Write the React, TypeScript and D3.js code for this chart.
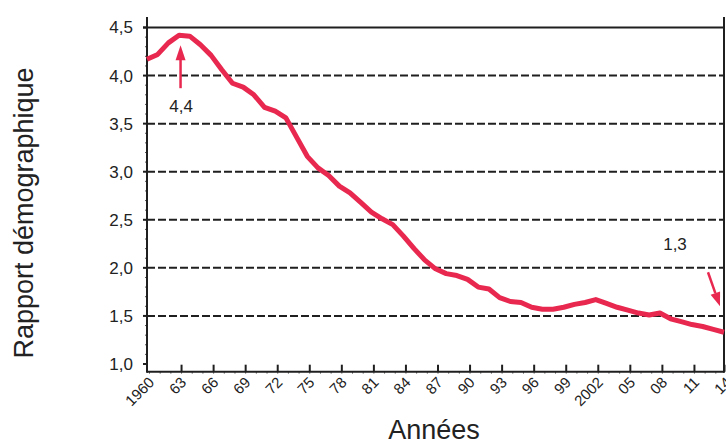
import React from "react";
import * as d3 from "d3";

const years: number[] = d3.range(1960, 2015);
const ratio: number[] = [
  4.17, 4.22, 4.34, 4.42, 4.41, 4.32, 4.21, 4.06, 3.92, 3.88,
  3.8, 3.67, 3.63, 3.56, 3.36, 3.16, 3.04, 2.96, 2.85, 2.78,
  2.68, 2.58, 2.51, 2.45, 2.33, 2.2, 2.08, 1.99, 1.94, 1.92,
  1.88, 1.8, 1.78, 1.69, 1.65, 1.64, 1.59, 1.57, 1.57, 1.59,
  1.62, 1.64, 1.67, 1.63, 1.59, 1.56, 1.53, 1.51, 1.53, 1.47,
  1.44, 1.41, 1.39, 1.36, 1.33,
];
const yTicks: number[] = [1.0, 1.5, 2.0, 2.5, 3.0, 3.5, 4.0, 4.5];
const xTickYears: number[] = [1960, 1963, 1966, 1969, 1972, 1975, 1978, 1981, 1984, 1987, 1990, 1993, 1996, 1999, 2002, 2005, 2008, 2011, 2014];
const xTickLabels: string[] = ["1960", "63", "66", "69", "72", "75", "78", "81", "84", "87", "90", "93", "96", "99", "2002", "05", "08", "11", "14"];
const annotations = [
  { year: 1963, value: 4.42, label: "4,4" },
  { year: 2014, value: 1.33, label: "1,3" },
];

const W = 726;
const H = 443;
const FONT = "'Liberation Sans', Arial, Helvetica, sans-serif";
const RED = "#E8284F";
const INK = "#1f1f1f";

export default function App() {
  const x = d3.scaleLinear().domain([1960, 2014]).range([147, 724]);
  const xt = (yr: number) => x(yr) + 2.5;
  const y = d3.scaleLinear().domain([1.0, 4.5]).range([364, 27.5]);
  const left = x(1960);
  const right = x(2014);
  const bottom = y(0.92);
  const top = 17;

  const line = d3
    .line<number>()
    .x((_, i) => x(years[i]))
    .y((d) => y(d))
    .curve(d3.curveLinear);

  const minorY = d3.range(10, 46).map((v) => v / 10);
  const minorX = d3.range(1960, 2015);

  const fmt = (v: number) => v.toFixed(1).replace(".", ",");

  return (
    <svg width={W} height={H} style={{ position: "absolute", left: 0, top: 0, background: "#fff" }} fontFamily={FONT}>
      {/* minor y ticks */}
      {minorY.map((v) => (
        <line key={"my" + v} x1={left - 2} x2={left} y1={y(v)} y2={y(v)} stroke="#555" strokeWidth={1} />
      ))}
      {/* minor x ticks */}
      {minorX.map((yr) => (
        <line key={"mx" + yr} x1={xt(yr)} x2={xt(yr)} y1={bottom} y2={bottom + 2} stroke="#666" strokeWidth={1} />
      ))}
      {/* grid */}
      {yTicks.filter((v) => v > 1 && v < 4.5).map((v) => (
        <line key={"g" + v} x1={left} x2={right} y1={y(v)} y2={y(v)} stroke={INK} strokeWidth={2} strokeDasharray="8,3" />
      ))}
      <line x1={left - 4} x2={right} y1={y(4.5)} y2={y(4.5)} stroke={INK} strokeWidth={2} />
      {/* y major ticks */}
      {yTicks.map((v) => (
        <line key={"yt" + v} x1={left - 4} x2={left} y1={y(v)} y2={y(v)} stroke={INK} strokeWidth={2} />
      ))}
      {/* axes */}
      <line x1={left} x2={left} y1={top} y2={bottom + 1} stroke={INK} strokeWidth={2} />
      <line x1={right} x2={right} y1={top} y2={bottom + 1} stroke={INK} strokeWidth={2} />
      <line x1={left} x2={right} y1={bottom} y2={bottom} stroke={INK} strokeWidth={2} />
      {/* x major ticks */}
      {xTickYears.slice(1).map((yr) => (
        <line key={"xt" + yr} x1={xt(yr)} x2={xt(yr)} y1={bottom} y2={bottom - 7} stroke={INK} strokeWidth={2} />
      ))}
      {/* y labels */}
      {yTicks.map((v) => (
        <text key={"yl" + v} x={133} y={y(v)} dy="0.35em" textAnchor="end" fontSize={17} fill="#222">
          {fmt(v)}
        </text>
      ))}
      {/* x labels */}
      {xTickYears.map((yr, i) => (
        <text
          key={"xl" + yr}
          transform={`translate(${xt(yr) + 2},${bottom + 8}) rotate(-45)`}
          textAnchor="end"
          dy="0.35em"
          fontSize={15}
          fill="#222"
        >
          {xTickLabels[i]}
        </text>
      ))}
      {/* data line */}
      <path d={line(ratio) || ""} fill="none" stroke={RED} strokeWidth={5} strokeLinejoin="round" strokeLinecap="butt" />
      {/* annotation 4,4 */}
      <line x1={x(annotations[0].year) + 1.5} x2={x(annotations[0].year) + 1.5} y1={y(annotations[0].value) + 53} y2={y(annotations[0].value) + 22} stroke={RED} strokeWidth={2.5} />
      <path
        d={`M${x(annotations[0].year) + 1.5},${y(annotations[0].value) + 10} l-5,15 l10,0 z`}
        fill={RED}
      />
      <text x={x(annotations[0].year) + 2} y={y(annotations[0].value) + 77} textAnchor="middle" fontSize={17} fill="#222">
        {annotations[0].label}
      </text>
      {/* annotation 1,3 */}
      {(() => {
        const tx = x(annotations[1].year) - 4;
        const ty = y(annotations[1].value) - 26;
        const sx = tx - 12;
        const sy = ty - 34;
        const ang = Math.atan2(ty - sy, tx - sx);
        const hl = 14;
        const hw = 5;
        const bx = tx - hl * Math.cos(ang);
        const by = ty - hl * Math.sin(ang);
        const px = -Math.sin(ang) * hw;
        const py = Math.cos(ang) * hw;
        return (
          <g>
            <line x1={sx} y1={sy} x2={bx} y2={by} stroke={RED} strokeWidth={2.5} />
            <path d={`M${tx},${ty} L${bx + px},${by + py} L${bx - px},${by - py} Z`} fill={RED} />
            <text x={675} y={y(annotations[1].value) - 82} textAnchor="middle" fontSize={17} fill="#222">
              {annotations[1].label}
            </text>
          </g>
        );
      })()}
      {/* titles */}
      <text transform={`translate(33,213) rotate(-90)`} textAnchor="middle" fontSize={27} fill="#222">
        Rapport démographique
      </text>
      <text x={434} y={439} textAnchor="middle" fontSize={27} fill="#222">
        Années
      </text>
    </svg>
  );
}
